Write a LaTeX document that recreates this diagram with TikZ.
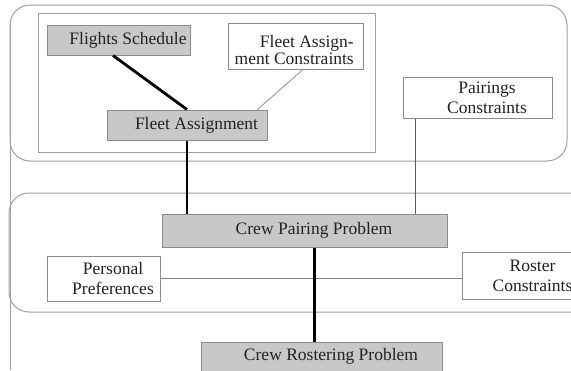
\documentclass[tikz,border=0pt]{standalone}
\usepackage{fontspec}
\setmainfont{Liberation Serif}
\usetikzlibrary{calc}
\definecolor{boxgray}{HTML}{C8C8C8}
\definecolor{edgegray}{HTML}{8C8C8C}
\definecolor{framegray}{HTML}{A0A0A0}
\definecolor{linegray}{HTML}{808080}
\definecolor{txtcol}{HTML}{222222}
\begin{document}
\begin{tikzpicture}[x=1pt,y=-1pt,
  every node/.style={font=\fontsize{17.5}{20}\selectfont, text=txtcol},
  gbox/.style={draw=edgegray, fill=boxgray, line width=1pt, inner sep=0pt},
  wbox/.style={draw=edgegray, fill=white, line width=1pt, inner sep=0pt},
  lbl/.style={align=center, inner sep=0pt, xshift=9.5pt},
  heavy/.style={line width=2.8pt, draw=black},
  light/.style={line width=1pt, draw=linegray},
  zone/.style={draw=framegray, line width=1pt, rounded corners=20pt}]

\path[use as bounding box] (0,0) rectangle (571,370);
\clip (0,0) rectangle (571,370);

% frames
\draw[zone] (10,5) rectangle (567,161);
\draw[zone] (9,193) rectangle (640,312);
\draw[draw=framegray, line width=1pt] (10,22) -- (10,370);
\draw[draw=framegray, line width=1pt] (38,13) rectangle (375,152);

% nodes
\node[gbox, minimum width=143pt, minimum height=30pt,
      label={[lbl]center:Flights Schedule}] (fs) at (118.5,40) {};
\node[wbox, minimum width=135pt, minimum height=46pt] (fac) at (295.5,46) {};
\node[align=right, anchor=east, inner sep=0pt,
      font=\fontsize{17.5}{17}\selectfont] (fact) at (354,50) {Fleet Assign-\\ment Constraints};
\node[gbox, minimum width=160pt, minimum height=30pt,
      label={[lbl]center:Fleet Assignment}] (fa) at (187,125) {};
\node[wbox, minimum width=149pt, minimum height=41pt,
      label={[lbl]center:{Pairings\\Constraints}}] (pc) at (477.5,97.5) {};
\node[gbox, minimum width=285pt, minimum height=33pt,
      label={[lbl]center:Crew Pairing Problem}] (cpp) at (304.5,230.5) {};
\node[wbox, minimum width=113pt, minimum height=45pt,
      label={[lbl]center:{Personal\\Preferences}}] (pp) at (103.5,278.5) {};
\node[wbox, minimum width=122pt, minimum height=47pt,
      label={[lbl]center:{Roster\\Constraints}}] (rc) at (523,275.5) {};
\node[gbox, minimum width=241pt, minimum height=40pt,
      label={[lbl,yshift=6pt]center:Crew Rostering Problem}] (cr) at (321.5,362) {};

% connectors
\draw[heavy] ($(fs.south)+(-5.5,0)$) -- (fa.north);
\draw[light, draw=framegray] ($(fac.south)+(7.5,0)$) -- ($(fa.north east)+(-10,0)$);
\draw[heavy] (fa.south) -- (fa.south |- cpp.north);
\coordinate (pcfoot) at ($(pc.south west)+(13,0)$);
\draw[light, draw=black!65] (pcfoot) -- (pcfoot |- cpp.north);
\draw[light] (pp.east) -- (pp.east -| rc.west);
\coordinate (cpfoot) at ($(cpp.south)+(10,0)$);
\draw[heavy] (cpfoot) -- (cpfoot |- cr.north);
\end{tikzpicture}
\end{document}
